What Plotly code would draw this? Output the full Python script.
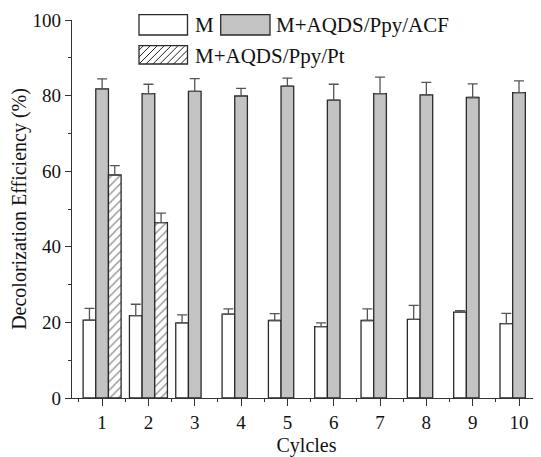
import plotly.graph_objects as go

cycles = [1, 2, 3, 4, 5, 6, 7, 8, 9, 10]
tick_labels = ["1", "2", "3", "4", "5", "6", "7", "8", "9", "10"]

m_vals = [20.6, 21.8, 19.9, 22.2, 20.5, 18.9, 20.5, 20.8, 22.7, 19.7]
m_err = [3.1, 3.0, 2.1, 1.4, 1.8, 1.0, 3.1, 3.7, 0.4, 2.7]

acf_vals = [81.8, 80.5, 81.1, 79.9, 82.5, 78.8, 80.5, 80.2, 79.5, 80.8]
acf_err = [2.6, 2.5, 3.4, 2.0, 2.1, 4.2, 4.4, 3.3, 3.6, 3.1]

pt_cycles = [1, 2]
pt_vals = [59.0, 46.4]
pt_err = [2.5, 2.5]

OFF = 8  # page body margin
W, H = 541 - OFF, 457 - OFF
L, R, T, B = 72 - OFF, 0, 20 - OFF, 59
FONT = "Liberation Serif"
EDGE = "#2a2a2a"
GRAY = "#c3c3c3"

def err(a):
    return dict(type="data", symmetric=False, array=a, arrayminus=[0] * len(a),
                color="#555555", thickness=1.3, width=5)

fig = go.Figure()
fig.add_trace(go.Bar(x=cycles, y=m_vals, name="M", marker=dict(color="white", line=dict(color=EDGE, width=1.3)),
                     error_y=err(m_err), showlegend=False))
fig.add_trace(go.Bar(x=cycles, y=acf_vals, name="M+AQDS/Ppy/ACF", marker=dict(color=GRAY, line=dict(color=EDGE, width=1.3)),
                     error_y=err(acf_err), showlegend=False))
fig.add_trace(go.Bar(x=pt_cycles, y=pt_vals, name="M+AQDS/Ppy/Pt",
                     marker=dict(color="white", line=dict(color=EDGE, width=1.3),
                                 pattern=dict(shape="/", fgcolor="#111111", bgcolor="white", size=6, solidity=0.2)),
                     error_y=err(pt_err), showlegend=False))

pw = W - L - R
ph = H - T - B
# reference page coords -> paper coords
def px(x):
    return (x - OFF - L) / pw
def py(y):
    return (H - B - (y - OFF)) / ph

shapes = []
annotations = []
legend_items = [
    (139, 187.5, 14.7, 35, "white", None, "M", 193, 25.5),
    (220.7, 270, 14.7, 35, GRAY, None, "M+AQDS/Ppy/ACF", 273.5, 25.5),
    (139, 187.5, 45.7, 64, "white", "/", "M+AQDS/Ppy/Pt", 193, 55.5),
]
for x0, x1, y0, y1, fill, pat, label, tx, ty in legend_items:
    if pat:
        n = 7
        step = (x1 - x0) / n
        for i in range(n + 3):
            xs = x0 + (i - 2) * step
            xa, ya = xs, y1
            xb, yb = xs + (y1 - y0), y0
            if xa < x0:
                ya = y1 - (x0 - xa); xa = x0
            if xb > x1:
                yb = y0 + (xb - x1); xb = x1
            if xa < xb and ya > yb:
                shapes.append(dict(type="line", xref="paper", yref="paper", x0=px(xa), y0=py(ya), x1=px(xb), y1=py(yb),
                                   line=dict(color="#222222", width=1)))
    shapes.append(dict(type="rect", xref="paper", yref="paper", x0=px(x0), x1=px(x1), y0=py(y1), y1=py(y0),
                       fillcolor=fill if not pat else "rgba(0,0,0,0)", line=dict(color=EDGE, width=1.3),
                       layer="above"))
    annotations.append(dict(xref="paper", yref="paper", x=px(tx), y=py(ty), text=label, showarrow=False,
                            xanchor="left", yanchor="middle", font=dict(family=FONT, size=21, color="#111111")))

fig.update_layout(
    width=W, height=H,
    margin=dict(l=L, r=R, t=T, b=B, autoexpand=False),
    paper_bgcolor="white", plot_bgcolor="white",
    barmode="group", bargap=0.18, bargroupgap=0,
    font=dict(family=FONT, size=19, color="#111111"),
    shapes=shapes, annotations=annotations,
    xaxis=dict(range=[0.35, 10.475], tickmode="array", tickvals=cycles, ticktext=tick_labels,
               ticks="outside", ticklen=7, tickwidth=1.2, tickcolor="#333",
               minor=dict(tickvals=[0.5 + i for i in range(11)], ticks="outside", ticklen=3, tickwidth=1.2, tickcolor="#333"),
               showline=True, linecolor="#333", linewidth=1.3, showgrid=False, zeroline=False,
               title=dict(text="Cylcles", font=dict(size=20), standoff=9),
               tickfont=dict(size=19)),
    yaxis=dict(range=[0, 100], tickvals=[0, 20, 40, 60, 80, 100],
               ticks="outside", ticklen=6, tickwidth=1.2, tickcolor="#333",
               minor=dict(tickvals=[10, 30, 50, 70, 90], ticks="outside", ticklen=3, tickwidth=1.2, tickcolor="#333"),
               showline=True, linecolor="#333", linewidth=1.3, showgrid=False, zeroline=False,
               title=dict(text="Decolorization Efficiency (%)", font=dict(size=20), standoff=4),
               tickfont=dict(size=19)),
)

fig.write_html("out.html")
